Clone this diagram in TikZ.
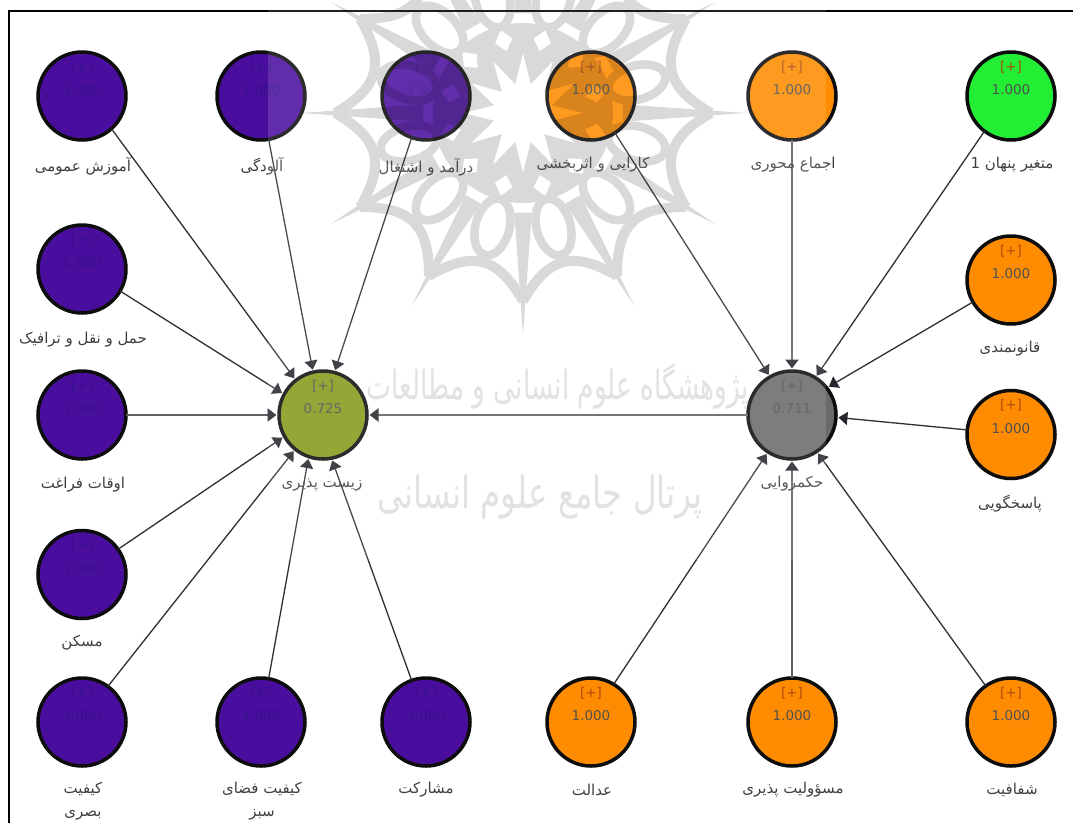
\documentclass[tikz,border=0pt]{standalone}
\usepackage{fontspec}
\usetikzlibrary{arrows.meta}
\setmainfont{DejaVu Sans}
\newfontfamily\arabicfont[Script=Arabic]{DejaVu Sans}
\TeXXeTstate=1
\newcommand{\fa}[1]{\beginR #1\endR}
\definecolor{lvpurple}{HTML}{4A0E9E}
\definecolor{lvorange}{HTML}{FF8C00}
\definecolor{lvgreen}{HTML}{22EE33}
\definecolor{lvolive}{HTML}{849B1A}
\definecolor{lvgrey}{HTML}{6A6A6A}
\definecolor{pluscol}{HTML}{B04A10}
\definecolor{valcol}{HTML}{505050}
\definecolor{darkcol}{HTML}{36108A}
\definecolor{labcol}{HTML}{404040}
\definecolor{linecol}{HTML}{303034}
\definecolor{headcol}{HTML}{26262E}
\definecolor{wmgrey}{HTML}{DEDEDE}
\tikzset{
  lv/.style={circle,draw=black!95,line width=3.5pt,minimum size=88pt,inner sep=0pt,outer sep=0pt},
  pur/.style={lv,fill=lvpurple},
  ora/.style={lv,fill=lvorange},
  gre/.style={lv,fill=lvgreen},
  oli/.style={lv,fill=lvolive},
  gry/.style={lv,fill=lvgrey},
  plustext/.style={font=\fontsize{13.5}{15}\selectfont,inner sep=0pt},
  valtext/.style={font=\fontsize{13.5}{15}\selectfont,inner sep=0pt},
  lab/.style={font=\arabicfont\fontsize{15}{23}\selectfont,text=labcol,align=center,inner sep=0pt},
  thinedge/.style={-{Triangle[length=9pt,width=13pt,color=headcol]},line width=1.3pt,draw=linecol,shorten >=2.5pt},
  boldedge/.style={-{Triangle[length=9pt,width=13pt,color=headcol]},line width=2.2pt,draw=black!62,shorten >=2.5pt},
  wmtexta/.style={font=\arabicfont\fontsize{40}{44}\selectfont,text=wmgrey,inner sep=0pt,xscale=.66},
  wmtextb/.style={font=\arabicfont\fontsize{44}{48}\selectfont,text=wmgrey,inner sep=0pt,xscale=.74},
}
% name, x, y, style, plus colour, value colour, value
\newcommand{\lvnode}[7]{%
  \node[#4] (#1) at (#2,#3) {};
  \node[plustext,text=#5] (#1p) at (#2,#3-29) {[+]};
  \node[valtext,text=#6] (#1v) at (#2,#3-6) {#7};
}
\begin{document}
\begin{tikzpicture}[x=1pt,y=-1pt]
\useasboundingbox (0,0) rectangle (1073,823);
\fill[white] (0,0) rectangle (1073,823);
% frame
\coordinate (fa) at (1073,11);
\coordinate (fb) at (9,11);
\coordinate (fc) at (9,823);
\draw[line width=1.2pt,black] (fa) -- (fb) -- (fc);
% calligraphic watermark lines (under the diagram)
\node[wmtexta] (wm1) at (558,386) {\fa{پژوهشگاه علوم انسانی و مطالعات}};
\node[wmtextb] (wm2) at (540,497) {\fa{پرتال جامع علوم انسانی}};
% constructs
\lvnode{a1}{82}{96}{pur}{darkcol}{darkcol}{1.000}
\lvnode{a2}{261}{96}{pur}{darkcol}{darkcol}{1.000}
\lvnode{a3}{426}{96}{pur}{darkcol}{darkcol}{1.000}
\lvnode{a4}{82}{269}{pur}{darkcol}{darkcol}{1.000}
\lvnode{a5}{82}{415}{pur}{darkcol}{darkcol}{1.000}
\lvnode{a6}{82}{574.5}{pur}{darkcol}{darkcol}{1.000}
\lvnode{a7}{82}{722}{pur}{darkcol}{darkcol}{1.000}
\lvnode{a8}{261}{722}{pur}{darkcol}{darkcol}{1.000}
\lvnode{a9}{426}{722}{pur}{darkcol}{darkcol}{1.000}
\lvnode{g}{323}{415}{oli}{valcol}{valcol}{0.725}
\lvnode{h}{792}{415}{gry}{valcol}{valcol}{0.711}
\lvnode{b1}{591}{96}{ora}{pluscol}{valcol}{1.000}
\lvnode{b2}{792}{96}{ora}{pluscol}{valcol}{1.000}
\lvnode{b3}{1011}{96}{gre}{pluscol}{valcol}{1.000}
\lvnode{b4}{1011}{280}{ora}{pluscol}{valcol}{1.000}
\lvnode{b5}{1011}{434.5}{ora}{pluscol}{valcol}{1.000}
\lvnode{b6}{1011}{722}{ora}{pluscol}{valcol}{1.000}
\lvnode{b7}{792}{722}{ora}{pluscol}{valcol}{1.000}
\lvnode{b8}{591}{722}{ora}{pluscol}{valcol}{1.000}
% connectors
\draw[thinedge] (a1.-48.3) -- (g.128.3);
\draw[thinedge] (a2.-80.6) -- (g.103.2);
\draw[thinedge] (a3.251.2) -- (g.75.7);
\draw[thinedge] (a4.-30.8) -- (g.152.9);
\draw[boldedge] (a5.0) -- (g.180);
\draw[thinedge] (a6.35.5) -- (g.209.3);
\draw[thinedge] (a7.54.3) -- (g.231);
\draw[thinedge] (a8.80.8) -- (g.251.6);
\draw[thinedge] (a9.109.2) -- (g.281.6);
\draw[boldedge] (h.180) -- (g.0);
\draw[thinedge] (b1.-57.6) -- (h.120.3);
\draw[boldedge] (b2.-90) -- (h.90);
\draw[thinedge] (b3.233.4) -- (h.58.6);
\draw[thinedge] (b4.210.3) -- (h.38.7);
\draw[thinedge] (b5.174.6) -- (h.-3.8);
\draw[thinedge] (b6.125.3) -- (h.-56.7);
\draw[boldedge] (b7.90) -- (h.270);
\draw[thinedge] (b8.59.8) -- (h.237.3);
% labels
\node[lab] (la1) at (83,166) {\fa{آموزش عمومی}};
\node[lab] (la2) at (262,166) {\fa{آلودگی}};
\node[lab] (la3) at (426,167) {\fa{درآمد و اشتغال}};
\node[lab] (la4) at (83,340) {\fa{حمل و نقل و ترافیک}};
\node[lab] (la5) at (83,485) {\fa{اوقات فراغت}};
\node[lab] (la6) at (82,643) {\fa{مسکن}};
\node[lab] (la7) at (83,801) {\fa{کیفیت}\\\fa{بصری}};
\node[lab] (la8) at (262,801) {\fa{کیفیت فضای}\\\fa{سبز}};
\node[lab] (la9) at (426,790) {\fa{مشارکت}};
\node[lab] (lg) at (322,485) {\fa{زیست پذیری}};
\node[lab] (lh) at (792,484) {\fa{حکمروایی}};
\node[lab] (lb1) at (593,165) {\fa{کارایی و اثربخشی}};
\node[lab] (lb2) at (793,165) {\fa{اجماع محوری}};
\node[lab] (lb3) at (1012,165) {\fa{متغیر پنهان 1}};
\node[lab] (lb4) at (1010,349) {\fa{قانونمندی}};
\node[lab] (lb5) at (1010,504) {\fa{پاسخگویی}};
\node[lab] (lb6) at (1012,790) {\fa{شفافیت}};
\node[lab] (lb7) at (793,790) {\fa{مسؤولیت پذیری}};
\node[lab] (lb8) at (592,790) {\fa{عدالت}};
% translucent watermark sheet and rosette, above the diagram
\fill[white,opacity=.13] (268,0) rectangle (826,560);
\begin{scope}
\clip (268,0) rectangle (826,560);
\begin{scope}[shift={(523,113)},transparency group,opacity=.15]
  \foreach \a in {0,30,...,330}{
    \fill[black] (\a+5:100) -- (\a:222) -- (\a-5:100) -- cycle;
    \draw[black,line width=10pt] (\a:188) .. controls (\a+10:146) and (\a+20:146) .. (\a+30:188);
    \begin{scope}[shift={(\a+15:118)},rotate=-\a-15]
      \draw[black,line width=8.5pt] (0,0) ellipse (29 and 17);
    \end{scope}
  }
  \fill[black,even odd rule] (0,0) circle (90)
    (0:60)
    \foreach \a in {0,30,...,330}{
      -- (\a+15:30) -- (\a+30:60)
    } -- cycle
    \foreach \a in {15,45,...,345}{
      (\a:64) -- (\a+7:75) -- (\a:86) -- (\a-7:75) -- cycle
    };
\end{scope}
\end{scope}
\end{tikzpicture}
\end{document}
